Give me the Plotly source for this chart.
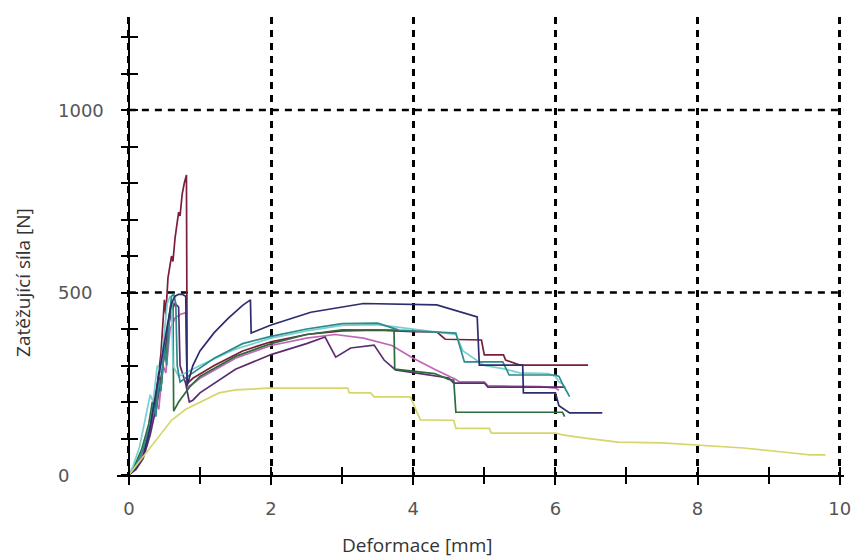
import plotly.graph_objects as go

# Load–deformation records of eight specimens (deformation in mm, load in N)
def_a = [0, 0.15, 0.25, 0.35, 0.45, 0.5, 0.52, 0.55, 0.6, 0.62, 0.65, 0.7, 0.72, 0.75, 0.78, 0.8, 0.81, 0.82,
         0.9, 1.2, 1.6, 2.0, 2.5, 3.0, 3.5, 4.0, 4.33, 4.45, 4.96, 5.0, 5.27, 5.3, 5.5, 6.46]
load_a = [0, 35, 80, 170, 330, 480, 440, 540, 600, 585, 650, 720, 710, 770, 800, 822, 822, 250,
          265, 300, 340, 365, 385, 395, 397, 393, 392, 372, 370, 329, 329, 315, 301, 301]

def_b = [0, 0.1, 0.2, 0.3, 0.35, 0.4, 0.45, 0.5, 0.55, 0.6, 0.65, 0.7, 0.75, 0.8, 0.82,
         0.9, 1.0, 1.2, 1.4, 1.6, 1.71, 1.72, 2.0, 2.56, 2.9, 3.3, 4.33, 4.6, 4.9, 4.93,
         5.54, 5.55, 6.0, 6.05, 6.2, 6.66]
load_b = [0, 20, 50, 130, 190, 250, 300, 360, 420, 470, 490, 495, 495, 490, 245,
          300, 340, 390, 430, 465, 480, 389, 411, 446, 457, 470, 466, 450, 433, 301,
          301, 225, 225, 190, 170, 170]

def_c = [0, 0.1, 0.2, 0.3, 0.35, 0.38, 0.42, 0.45, 0.5, 0.53, 0.57, 0.6, 0.63, 0.66, 0.68, 0.72,
         0.9, 1.2, 1.6, 2.0, 2.5, 3.0, 3.5, 3.8, 4.6, 4.72, 5.26, 5.35, 6.0, 6.05, 6.1, 6.2]
load_c = [0, 25, 70, 140, 200, 160, 260, 230, 350, 300, 430, 490, 495, 470, 300, 255,
          280, 320, 360, 380, 400, 415, 416, 397, 389, 310, 310, 274, 274, 270, 250, 215]

def_d = [0, 0.06, 0.15, 0.22, 0.3, 0.34, 0.4, 0.44, 0.5, 0.54, 0.58, 0.6, 0.62, 0.7, 0.8,
         1.0, 1.5, 2.0, 2.5, 3.0, 3.5, 3.8, 4.2, 4.6, 4.7, 5.0, 5.3, 5.5, 5.9, 6.0, 6.05, 6.1]
load_d = [0, 25, 77, 140, 220, 200, 300, 280, 400, 470, 490, 485, 300, 270, 280,
          300, 345, 375, 395, 410, 412, 405, 395, 385, 340, 300, 290, 280, 278, 270, 255, 250]

def_e = [0, 0.08, 0.18, 0.28, 0.33, 0.37, 0.42, 0.46, 0.5, 0.53, 0.57, 0.6, 0.62, 0.63,
         0.7, 0.85, 1.0, 1.5, 2.0, 2.5, 3.0, 3.3, 3.73, 3.74, 4.0, 4.3, 4.5, 4.57, 4.6, 6.1, 6.13]
load_e = [0, 25, 70, 140, 200, 180, 270, 250, 350, 330, 440, 480, 470, 175,
          200, 240, 270, 325, 360, 385, 398, 398, 397, 290, 285, 278, 262, 260, 172, 172, 160]

def_f = [0, 0.1, 0.2, 0.3, 0.4, 0.45, 0.5, 0.55, 0.6, 0.65, 0.7, 0.72, 0.8, 0.85,
         0.9, 1.0, 1.5, 2.0, 2.5, 2.76, 2.91, 3.12, 3.45, 3.59, 3.75, 4.05, 4.5, 4.57, 5.0, 5.05, 6.14]
load_f = [0, 15, 45, 110, 200, 260, 330, 400, 450, 470, 460, 300, 250, 200,
          205, 225, 290, 330, 360, 378, 323, 348, 356, 315, 288, 279, 266, 252, 252, 241, 241]

def_g = [0, 0.12, 0.22, 0.3, 0.38, 0.42, 0.48, 0.52, 0.58, 0.65, 0.72, 0.8, 0.82,
         0.9, 1.0, 1.5, 2.0, 2.5, 2.9, 3.3, 3.7, 4.0, 4.3, 4.6, 4.65, 5.0, 5.05, 5.8, 6.0, 6.05]
load_g = [0, 30, 70, 120, 200, 180, 300, 280, 400, 430, 440, 445, 240,
          250, 265, 320, 355, 375, 385, 375, 355, 320, 290, 262, 255, 255, 245, 242, 238, 232]

def_h = [0, 0.1, 0.25, 0.43, 0.6, 0.8, 1.0, 1.27, 1.5, 1.96, 3.08, 3.1, 3.4, 3.45, 3.96, 4.1,
         4.57, 4.6, 5.07, 5.1, 6.0, 6.1, 6.42, 6.88, 7.5, 8.0, 8.65, 9.2, 9.58, 9.8]
load_h = [0, 25, 60, 105, 150, 180, 200, 225, 233, 238, 238, 225, 225, 214, 214, 151,
          150, 128, 128, 115, 115, 110, 101, 90, 88, 82, 74, 63, 55, 55]

series = [
    (def_a, load_a, "#7b1e3a"),
    (def_g, load_g, "#c066b8"),
    (def_f, load_f, "#5c2d6e"),
    (def_e, load_e, "#2e6b3c"),
    (def_d, load_d, "#78d0d0"),
    (def_c, load_c, "#2e8b8b"),
    (def_b, load_b, "#2c2c6e"),
    (def_h, load_h, "#d6d66a"),
]

x_range = [-0.167, 10.06]
y_range = [0, 1255]
y_label_vals = [0, 500, 1000]
y_label_text = ["0", "500", "1000"]
y_grid_vals = [500, 1000]

fig = go.Figure()
for xs, ys, col in series:
    fig.add_trace(go.Scatter(x=xs, y=ys, mode="lines", line=dict(color=col, width=1.7),
                             showlegend=False, hoverinfo="skip"))

y_pos = (0 - x_range[0]) / (x_range[1] - x_range[0])
tick_font = dict(family="DejaVu Sans", size=18, color="#555555")
grid_dash = "7px,6px"

common_x = dict(range=x_range, showline=True, linecolor="black", linewidth=2,
                tick0=0, dtick=2, ticklen=8, tickwidth=2, tickcolor="black", zeroline=False)
fig.update_layout(
    width=862, height=558,
    margin=dict(l=117, r=11, t=17, b=83),
    paper_bgcolor="white", plot_bgcolor="white",
    xaxis=dict(**common_x, ticks="outside", showticklabels=True, tickfont=tick_font,
               ticklabelstandoff=8,
               showgrid=True, gridcolor="black", gridwidth=2.5, griddash=grid_dash,
               minor=dict(dtick=1, tick0=0, ticks="outside", ticklen=7, tickwidth=2,
                          tickcolor="black", showgrid=False)),
    xaxis2=dict(**common_x, overlaying="x", anchor="y", ticks="inside", showticklabels=False,
                showgrid=False,
                minor=dict(dtick=1, tick0=0, ticks="inside", ticklen=8, tickwidth=2,
                           tickcolor="black", showgrid=False)),
    yaxis=dict(range=y_range, anchor="free", position=y_pos, showline=True, linecolor="black",
               linewidth=2, ticks="outside", tick0=0, dtick=500, ticklen=7, tickwidth=2,
               tickcolor="black", showticklabels=False, showgrid=False, zeroline=False,
               minor=dict(dtick=100, tick0=0, ticks="outside", ticklen=7, tickwidth=2,
                          tickcolor="black", showgrid=False)),
    yaxis2=dict(range=y_range, overlaying="y", anchor="free", position=y_pos, showline=False,
                ticks="inside", tick0=0, dtick=500, ticklen=8, tickwidth=2, tickcolor="black",
                showticklabels=False, showgrid=False, zeroline=False,
                minor=dict(dtick=100, tick0=0, ticks="inside", ticklen=8, tickwidth=2,
                           tickcolor="black", showgrid=False)),
)
# empty trace that puts the secondary (inner-tick) axes on the figure
fig.add_trace(go.Scatter(x=[None], y=[None], xaxis="x2", yaxis="y2", showlegend=False))

# horizontal dashed grid lines starting at the y axis
for gv in y_grid_vals:
    fig.add_shape(type="line", xref="x", yref="y", x0=0, x1=x_range[1], y0=gv, y1=gv,
                  line=dict(color="black", width=2.5, dash=grid_dash), layer="below")

# left-aligned y tick labels
for v, t in zip(y_label_vals, y_label_text):
    fig.add_annotation(text=t, xref="paper", yref="y", x=(55 - 117) / 734, y=v,
                       xanchor="left", yanchor="middle", showarrow=False, font=tick_font)

title_font = dict(family="Open Sans", size=19, color="#333333")
fig.add_annotation(text="Deformace [mm]", xref="paper", yref="paper",
                   x=(420 - 117) / 734, y=-(545 - 475) / 458, xanchor="center", yanchor="middle",
                   showarrow=False, font=title_font)
fig.add_annotation(text="Zatěžující síla [N]", xref="paper", yref="paper",
                   x=(22 - 117) / 734, y=(475 - 282) / 458, xanchor="center", yanchor="middle",
                   textangle=-90, showarrow=False, font=title_font)

fig.write_html("out.html")
